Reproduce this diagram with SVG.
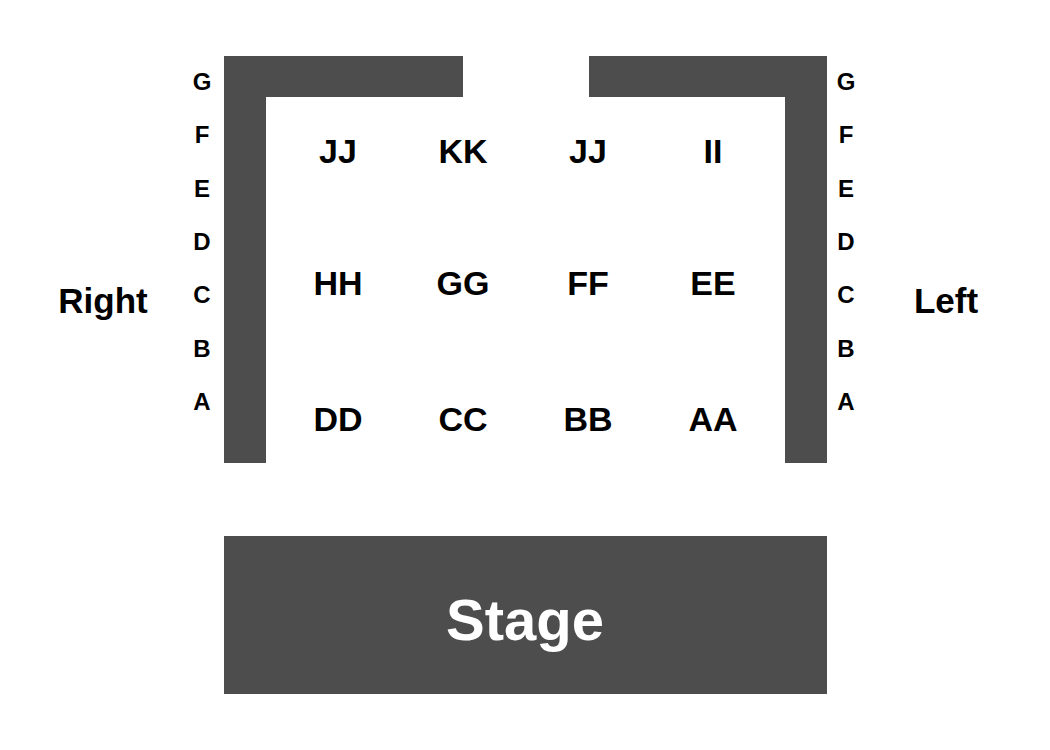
<svg xmlns="http://www.w3.org/2000/svg" width="1050" height="750" viewBox="0 0 1050 750">
<style>
.wall{fill:#4d4d4d}
text{font-family:"Liberation Sans",Arial,sans-serif;font-weight:bold;fill:#000;text-anchor:middle}
.row{font-size:24px}
.sec{font-size:34px}
.side{font-size:35px}
.stage{font-size:58px;fill:#fff}
</style>
<rect width="1050" height="750" fill="#fff"/>
<g id="walls">
<path class="wall" d="M224 56H463V97H266V463H224Z"/>
<path class="wall" d="M589 56H827V463H785V97H589Z"/>
</g>
<g id="row-labels-right">
<text class="row" x="202" y="90">G</text>
<text class="row" x="202" y="143">F</text>
<text class="row" x="202" y="197">E</text>
<text class="row" x="202" y="250">D</text>
<text class="row" x="202" y="303">C</text>
<text class="row" x="202" y="357">B</text>
<text class="row" x="202" y="410">A</text>
</g>
<g id="row-labels-left">
<text class="row" x="846" y="90">G</text>
<text class="row" x="846" y="143">F</text>
<text class="row" x="846" y="197">E</text>
<text class="row" x="846" y="250">D</text>
<text class="row" x="846" y="303">C</text>
<text class="row" x="846" y="357">B</text>
<text class="row" x="846" y="410">A</text>
</g>
<g id="sections">
<text class="sec" x="338" y="163">JJ</text>
<text class="sec" x="463" y="163">KK</text>
<text class="sec" x="588" y="163">JJ</text>
<text class="sec" x="713" y="163">II</text>
<text class="sec" x="338" y="295">HH</text>
<text class="sec" x="463" y="295">GG</text>
<text class="sec" x="588" y="295">FF</text>
<text class="sec" x="713" y="295">EE</text>
<text class="sec" x="338" y="431">DD</text>
<text class="sec" x="463" y="431">CC</text>
<text class="sec" x="588" y="431">BB</text>
<text class="sec" x="713" y="431">AA</text>
</g>
<g id="side-labels">
<text class="side" x="103" y="313">Right</text>
<text class="side" x="946" y="313">Left</text>
</g>
<g id="stage">
<rect class="wall" x="224" y="536" width="603" height="158"/>
<text class="stage" x="525" y="640">Stage</text>
</g>
</svg>
